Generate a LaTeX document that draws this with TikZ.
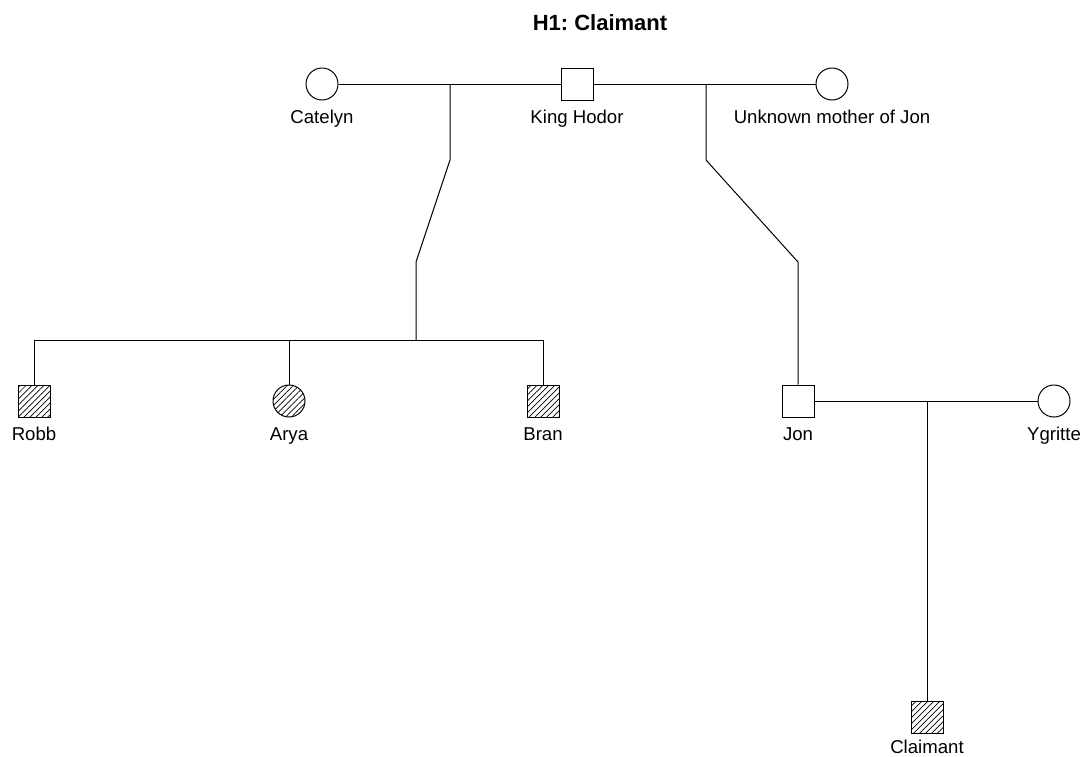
\documentclass[tikz,border=0pt]{standalone}
\usepackage{fontspec}
\setmainfont{Liberation Sans}
\usetikzlibrary{patterns.meta}
\frenchspacing
\begin{document}
\begin{tikzpicture}[x=1pt,y=-1pt,
  every path/.style={line width=1pt},
  male/.style={draw, rectangle, minimum size=32pt, inner sep=0pt, fill=white},
  female/.style={draw, circle, minimum size=32pt, inner sep=0pt, fill=white},
  affected/.style={pattern={Lines[angle=45,distance=4.2pt,line width=0.7pt]}},
  lbl/.style={anchor=base, inner sep=0pt, font=\fontsize{18.6}{22}\selectfont}]
\useasboundingbox (0,0) rectangle (1083,756);
\node[anchor=base, inner sep=0pt, font=\bfseries\fontsize{22}{26}\selectfont] (title) at (600,30) {H1: Claimant};
% generation I
\node[female] (catelyn) at (322,84) {};
\node[male] (hodor) at (577,84) {};
\node[female] (unknown) at (832,84) {};
\node[lbl] (catelynL) at (322,123) {Catelyn};
\node[lbl] (hodorL) at (577,123) {King Hodor};
\node[lbl] (unknownL) at (832,123) {Unknown mother of Jon};
% generation II
\node[male, affected] (robb) at (34,401) {};
\node[female, affected] (arya) at (289,401) {};
\node[male, affected] (bran) at (543,401) {};
\node[male] (jon) at (798,401) {};
\node[female] (ygritte) at (1054,401) {};
\node[lbl] (robbL) at (34,440) {Robb};
\node[lbl] (aryaL) at (289,440) {Arya};
\node[lbl] (branL) at (543,440) {Bran};
\node[lbl] (jonL) at (798,440) {Jon};
\node[lbl] (ygritteL) at (1054,440) {Ygritte};
% generation III
\node[male, affected] (claimant) at (927,717) {};
\node[lbl] (claimantL) at (927,753) {Claimant};
% marriages
\draw (catelyn) -- (hodor);
\draw (hodor) -- (unknown);
\draw (jon) -- (ygritte);
% descent lines
\coordinate (m1) at (450,84);
\coordinate (m1a) at (450,160);
\coordinate (m1b) at (416,262);
\coordinate (s1) at (416,340);
\draw (m1) -- (m1a) -- (m1b) -- (s1);
\draw (robb.north) |- (s1);
\draw (s1) -| (bran.north);
\draw (arya.north) -- (arya.north |- s1);
\coordinate (m2) at (706,84);
\coordinate (m2a) at (706,160);
\coordinate (m2b) at (798,262);
\draw (m2) -- (m2a) -- (m2b) -- (jon.north);
\coordinate (m3) at (927,401);
\draw (m3) -- (claimant.north);
\end{tikzpicture}
\end{document}
